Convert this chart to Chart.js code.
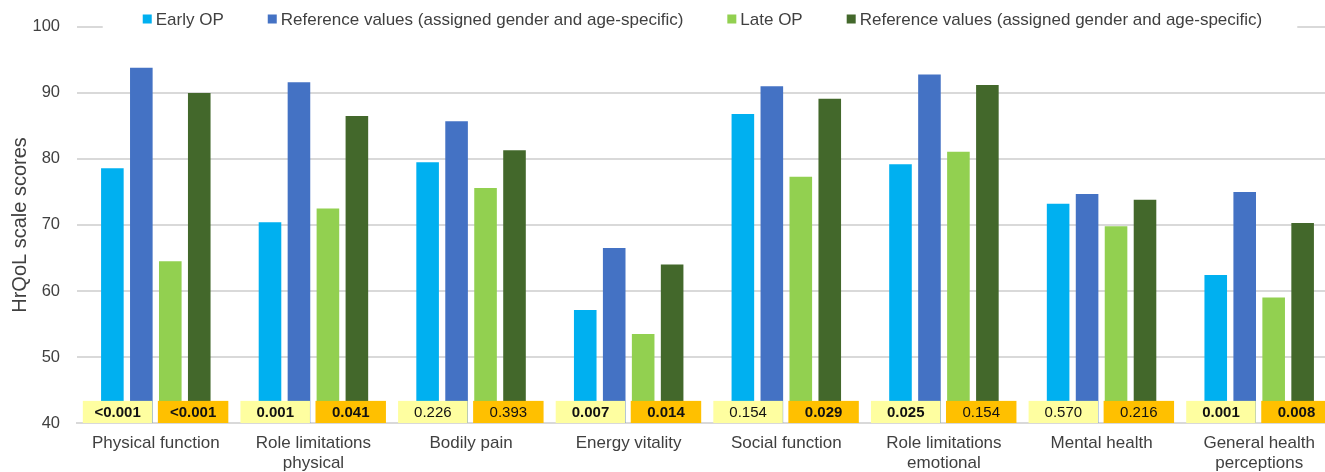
<!DOCTYPE html>
<html>
<head>
<meta charset="utf-8">
<script src="https://cdn.jsdelivr.net/npm/chart.js@4.4.1/dist/chart.umd.min.js"></script>
<style>
    html, body { margin: 0; padding: 0; background: #fff; overflow: hidden; }
    #wrap { position: relative; width: 1340px; height: 472px; }
</style>
</head>
<body>
<div id="wrap"><canvas id="hrqol-chart"></canvas></div>
<script>
// --- 1. DATA ---
const categories = [
    ['Physical function'],
    ['Role limitations', 'physical'],
    ['Bodily pain'],
    ['Energy vitality'],
    ['Social function'],
    ['Role limitations', 'emotional'],
    ['Mental health'],
    ['General health', 'perceptions']
];
const seriesLabels = [
    'Early OP',
    'Reference values (assigned gender and age-specific)',
    'Late OP',
    'Reference values (assigned gender and age-specific)'
];
const earlyOP = [78.6, 70.4, 79.5, 57.1, 86.8, 79.2, 73.2, 62.4];
const refEarly = [93.8, 91.6, 85.7, 66.5, 91.0, 92.8, 74.7, 75.0];
const lateOP = [64.5, 72.5, 75.6, 53.5, 77.3, 81.1, 69.8, 59.0];
const refLate = [90.0, 86.5, 81.3, 64.0, 89.1, 91.2, 73.8, 70.3];

// p-values: early OP vs reference (yellow), late OP vs reference (orange)
const pEarly = ['<0.001', '0.001', '0.226', '0.007', '0.154', '0.025', '0.570', '0.001'];
const pLate = ['<0.001', '0.041', '0.393', '0.014', '0.029', '0.154', '0.216', '0.008'];

const yTicks = [40, 50, 60, 70, 80, 90, 100];

// --- 2. STYLE ---
const FONT = '"Liberation Sans", Arial, sans-serif';
const TEXT_COLOR = '#404040';
const GRID_COLOR = '#d9d9d9';
const barColors = ['#00b0f0', '#4472c4', '#92d050', '#43682b'];
const boxColors = ['#fefea0', '#ffc000'];

// p-value boxes sit on the axis, up to this value
const BOX_TOP_VALUE = 43.35;

function isSignificant(p) {
    return parseFloat(p.replace('<', '')) < 0.05;
}

// --- 3. PLUGINS ---
const pValueBoxes = {
    id: 'pValueBoxes',
    afterDatasetsDraw(chart) {
        const { ctx } = chart;
        const xScale = chart.scales.x;
        const yScale = chart.scales.y;
        const catW = xScale.width / categories.length;
        const top = yScale.getPixelForValue(BOX_TOP_VALUE);
        const bottom = yScale.getPixelForValue(40);

        ctx.save();
        ctx.textAlign = 'center';
        ctx.textBaseline = 'middle';
        categories.forEach((c, i) => {
            const cx = xScale.getPixelForValue(i);
            const boxes = [
                { x0: cx - 0.463 * catW, x1: cx - 0.022 * catW, p: pEarly[i], color: boxColors[0] },
                { x0: cx + 0.013 * catW, x1: cx + 0.46 * catW, p: pLate[i], color: boxColors[1] }
            ];
            boxes.forEach(b => {
                ctx.fillStyle = b.color;
                ctx.fillRect(b.x0, top, b.x1 - b.x0, bottom - top);
                ctx.fillStyle = '#111';
                ctx.font = (isSignificant(b.p) ? 'bold ' : '') + '15px ' + FONT;
                ctx.fillText(b.p, (b.x0 + b.x1) / 2, (top + bottom) / 2 + 1);
            });
        });
        ctx.restore();
    }
};

// legend drawn in one row over the top gridline, on a white band
const topLegend = {
    id: 'topLegend',
    afterDraw(chart) {
        const { ctx, chartArea } = chart;
        const box = 9, gap = 4, spacing = 44, yMid = 19;

        ctx.save();
        ctx.font = '17px ' + FONT;
        const items = chart.data.datasets.map(ds => ({
            label: ds.label,
            color: ds.backgroundColor,
            w: ctx.measureText(ds.label).width
        }));
        const total = items.reduce((s, it) => s + box + gap + it.w, 0) + spacing * (items.length - 1);
        let x = (chartArea.left + chartArea.right) / 2 - total / 2 - 5;

        ctx.fillStyle = '#fff';
        ctx.fillRect(x - 40, yMid - 11, total + 75, 22);

        ctx.textBaseline = 'middle';
        items.forEach(it => {
            ctx.fillStyle = it.color;
            ctx.fillRect(x, yMid - box / 2, box, box);
            ctx.fillStyle = TEXT_COLOR;
            ctx.fillText(it.label, x + box + gap, yMid + 1);
            x += box + gap + it.w + spacing;
        });
        ctx.restore();
    }
};

// --- 4. CHART ---
const seriesValues = [earlyOP, refEarly, lateOP, refLate];

new Chart(document.getElementById('hrqol-chart'), {
    type: 'bar',
    data: {
        labels: categories,
        datasets: seriesValues.map((vals, i) => ({
            label: seriesLabels[i],
            data: vals,
            backgroundColor: barColors[i],
            borderWidth: 0,
            categoryPercentage: 0.735,
            barPercentage: 0.78
        }))
    },
    options: {
        responsive: true,
        maintainAspectRatio: false,
        animation: false,
        layout: { padding: { top: 25, right: 2, bottom: 0, left: 0 } },
        plugins: {
            legend: { display: false },
            tooltip: { enabled: false }
        },
        scales: {
            x: {
                afterFit(scale) {
                    scale.height = 49;
                },
                grid: { display: false, drawTicks: false },
                border: { display: true, color: GRID_COLOR, width: 2 },
                ticks: {
                    color: TEXT_COLOR,
                    font: { family: FONT, size: 17 },
                    padding: 10,
                    maxRotation: 0,
                    autoSkip: false
                }
            },
            y: {
                min: 40,
                max: 100,
                afterBuildTicks(scale) {
                    scale.ticks = yTicks.map(v => ({ value: v }));
                },
                afterFit(scale) {
                    scale.width = 77;
                },
                grid: { color: GRID_COLOR, lineWidth: 2, drawTicks: false },
                border: { display: false },
                ticks: {
                    color: TEXT_COLOR,
                    font: { family: FONT, size: 16.5 },
                    padding: 17
                },
                title: {
                    display: true,
                    text: 'HrQoL scale scores',
                    color: TEXT_COLOR,
                    font: { family: FONT, size: 20 },
                    padding: { top: 8, bottom: 6 }
                }
            }
        }
    },
    plugins: [pValueBoxes, topLegend]
});
</script>
</body>
</html>
